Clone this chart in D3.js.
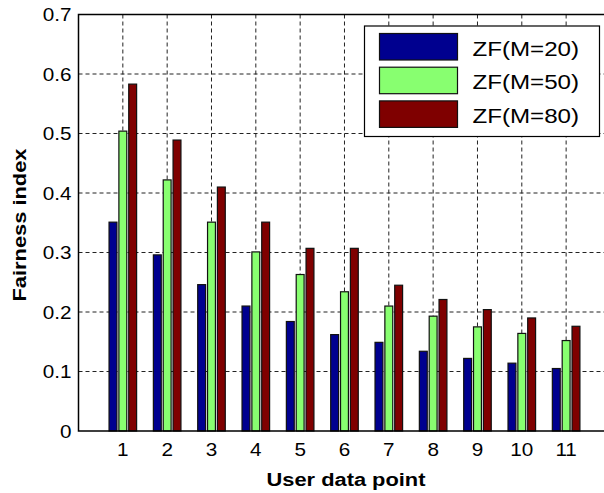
<!DOCTYPE html>
<html>
<head>
<meta charset="utf-8">
<script src="https://cdn.jsdelivr.net/npm/d3@7"></script>
<style>
  body { margin: 0; background: #fff; }
  svg { display: block; font-family: "Liberation Sans", Arial, Helvetica, sans-serif; }
  .grid line { stroke: #222; stroke-width: 1; stroke-dasharray: 4,3; }
</style>
</head>
<body>
<svg width="604" height="493"></svg>
<script>
  const categories = [1, 2, 3, 4, 5, 6, 7, 8, 9, 10, 11];
  const seriesNames = ["ZF(M=20)", "ZF(M=50)", "ZF(M=80)"];
  const m20 = [0.351, 0.296, 0.246, 0.21, 0.184, 0.162, 0.149, 0.134, 0.122, 0.114, 0.105];
  const m50 = [0.504, 0.422, 0.351, 0.301, 0.263, 0.234, 0.21, 0.193, 0.175, 0.164, 0.152];
  const m80 = [0.583, 0.489, 0.41, 0.351, 0.307, 0.307, 0.245, 0.221, 0.204, 0.19, 0.176];
  const yTicks = [0, 0.1, 0.2, 0.3, 0.4, 0.5, 0.6, 0.7];
  const colors = ["#00008f", "#88ff70", "#7f0000"];

  const series = [m20, m50, m80];
  const svg = d3.select("svg");
  const plotLeft = 78.5, plotTop = 14.5, plotBottom = 431;
  const stretch = 1.15;

  const x = d3.scaleLinear().domain([0, 12]).range([plotLeft, plotLeft + 12 * 44.33]);
  const y = d3.scaleLinear().domain([0, 0.7]).range([plotBottom, plotTop]);

  // grid
  const grid = svg.append("g").attr("class", "grid");
  grid.selectAll(".gy")
    .data(yTicks.slice(1))
    .join("line")
    .attr("x1", plotLeft).attr("x2", 604)
    .attr("y1", (d) => y(d)).attr("y2", (d) => y(d));
  grid.selectAll(".gx")
    .data(categories)
    .join("line")
    .attr("x1", (d) => x(d)).attr("x2", (d) => x(d))
    .attr("y1", plotTop).attr("y2", plotBottom);

  // bars (matlab grouped layout)
  const pitch = 0.222, barW = 0.178;
  series.forEach((vals, si) => {
    svg.append("g")
      .selectAll("rect")
      .data(vals)
      .join("rect")
      .attr("x", (d, i) => x(categories[i] + (si - 1) * pitch - barW / 2))
      .attr("width", x(barW) - x(0))
      .attr("y", (d) => y(d))
      .attr("height", (d) => y(0) - y(d))
      .attr("fill", colors[si])
      .attr("stroke", "#111")
      .attr("stroke-width", 1.2);
  });

  // axes frame
  svg.append("path")
    .attr("d", `M604,${plotTop}H${plotLeft}V${plotBottom}H604`)
    .attr("fill", "none")
    .attr("stroke", "#000")
    .attr("stroke-width", 1.5);

  function label(g, tx, ty, rot) {
    return g.attr("transform", `translate(${tx},${ty})${rot ? " rotate(" + rot + ")" : ""} scale(${stretch},1)`);
  }

  // y tick labels
  svg.append("g")
    .selectAll("text")
    .data(yTicks)
    .join("text")
    .each(function (d) {
      label(d3.select(this), 71.5, y(d) + 6.5);
    })
    .attr("text-anchor", "end")
    .attr("font-size", 18)
    .text((d) => (d === 0 ? "0" : d.toFixed(1)));

  // x tick labels
  svg.append("g")
    .selectAll("text")
    .data(categories)
    .join("text")
    .each(function (d) {
      label(d3.select(this), x(d), 456);
    })
    .attr("text-anchor", "middle")
    .attr("font-size", 18)
    .text((d) => d);

  label(svg.append("text"), 346, 486)
    .attr("text-anchor", "middle")
    .attr("font-size", 19)
    .attr("font-weight", "bold")
    .text("User data point");

  label(svg.append("text"), 25.5, 225, -90)
    .attr("text-anchor", "middle")
    .attr("font-size", 19)
    .attr("font-weight", "bold")
    .text("Fairness index");

  // legend
  const legend = svg.append("g");
  legend.append("rect")
    .attr("x", 364.5).attr("y", 26)
    .attr("width", 235).attr("height", 110.5)
    .attr("fill", "#fff")
    .attr("stroke", "#000")
    .attr("stroke-width", 1.2);
  const items = legend.selectAll("g")
    .data(seriesNames)
    .join("g")
    .attr("transform", (d, i) => `translate(0,${i * 33.7})`);
  items.append("rect")
    .attr("x", 379.5).attr("y", 33.5)
    .attr("width", 78).attr("height", 26.5)
    .attr("fill", (d, i) => colors[i])
    .attr("stroke", "#111")
    .attr("stroke-width", 1.2);
  items.append("text")
    .each(function () {
      label(d3.select(this), 472.5, 55.5);
    })
    .attr("font-size", 21)
    .text((d) => d);
</script>
</body>
</html>
